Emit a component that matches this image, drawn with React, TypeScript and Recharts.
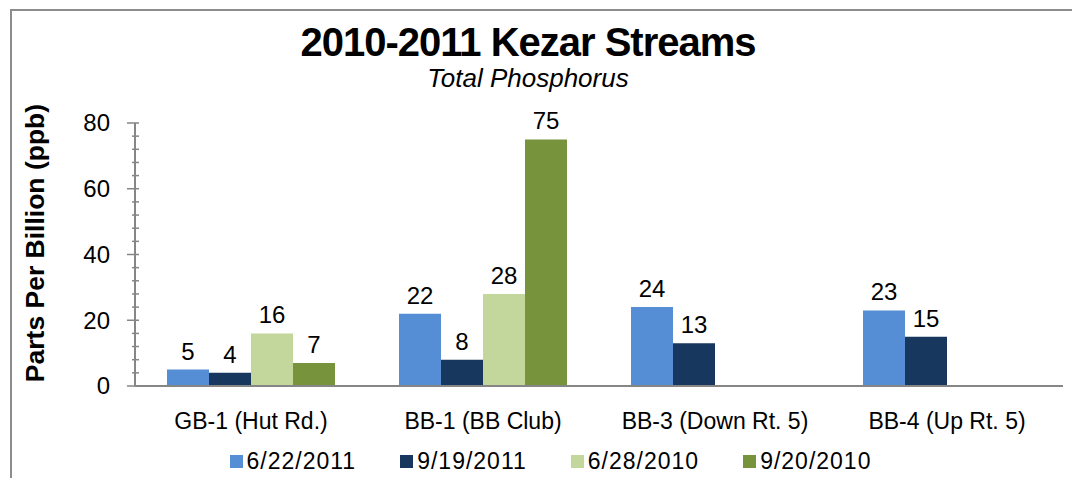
import { BarChart, Bar, XAxis, YAxis, LabelList, Legend } from 'recharts';

const sites = ['GB-1 (Hut Rd.)', 'BB-1 (BB Club)', 'BB-3 (Down Rt. 5)', 'BB-4 (Up Rt. 5)'];
const jun2011 = [5, 22, 24, 23];
const sep2011 = [4, 8, 13, 15];
const jun2010 = [16, 28, null, null];
const sep2010 = [7, 75, null, null];
const yTicks = [0, 4, 8, 12, 16, 20, 24, 28, 32, 36, 40, 44, 48, 52, 56, 60, 64, 68, 72, 76, 80];

const series = [
  { key: 'jun2011', name: '6/22/2011', color: '#558ED5' },
  { key: 'sep2011', name: '9/19/2011', color: '#17375E' },
  { key: 'jun2010', name: '6/28/2010', color: '#C3D69B' },
  { key: 'sep2010', name: '9/20/2010', color: '#77933C' },
];

const data = sites.map((site, i) => ({
  site,
  jun2011: jun2011[i],
  sep2011: sep2011[i],
  jun2010: jun2010[i],
  sep2010: sep2010[i],
}));

const FONT = '"Liberation Sans", Arial, sans-serif';
const AXIS_COLOR = '#868686';

function YTick({ x, y, payload }: any) {
  const major = payload.value % 20 === 0;
  return (
    <g>
      <line x1={x - (major ? 8 : 3)} x2={x + 4} y1={y} y2={y} stroke={AXIS_COLOR} strokeWidth={1.5} />
      {major && (
        <text x={x - 25} y={y} dy="0.35em" textAnchor="end" fontSize={24} fill="#000" fontFamily={FONT}>
          {payload.value}
        </text>
      )}
    </g>
  );
}

function LegendContent() {
  return (
    <div style={{ display: 'flex', justifyContent: 'center', gap: 44, paddingLeft: 30, paddingTop: 12, fontFamily: FONT, fontSize: 23, letterSpacing: 1 }}>
      {series.map(s => (
        <span key={s.key} style={{ display: 'flex', alignItems: 'center' }}>
          <span style={{ width: 13, height: 13, background: s.color, marginRight: 4, display: 'inline-block' }} />
          {s.name}
        </span>
      ))}
    </div>
  );
}

export default function App() {
  return (
    <div style={{ position: 'relative', width: 1072, height: 470, fontFamily: FONT }}>
      <div style={{ position: 'absolute', left: 2, top: 1, width: 1070, height: 469, borderTop: '2px solid #8c8c8c', borderLeft: '2px solid #8c8c8c' }} />
      <div style={{ position: 'absolute', left: 0, top: 14, width: 1040, textAlign: 'center', fontSize: 40, fontWeight: 'bold', letterSpacing: -1, lineHeight: 1 }}>
        2010-2011 Kezar Streams
      </div>
      <div style={{ position: 'absolute', left: 0, top: 57, width: 1040, textAlign: 'center', fontSize: 26, fontStyle: 'italic', lineHeight: 1 }}>
        Total Phosphorus
      </div>
      <div style={{ position: 'absolute', left: 27, top: 235, width: 0, height: 0 }}>
        <div style={{ position: 'absolute', transform: 'translate(-50%, -50%) rotate(-90deg)', whiteSpace: 'nowrap', fontSize: 26.5, fontWeight: 'bold', lineHeight: 1 }}>
          Parts Per Billion (ppb)
        </div>
      </div>
      <BarChart
        width={1072}
        height={470}
        data={data}
        margin={{ top: 115, right: 17, left: 0, bottom: 0 }}
        barCategoryGap={32}
        barGap={0}
        style={{ position: 'absolute', left: 0, top: 0 }}
      >
        <XAxis
          dataKey="site"
          height={50}
          tickLine={false}
          tickSize={0}
          tickMargin={27}
          axisLine={{ stroke: AXIS_COLOR, strokeWidth: 2 }}
          tick={{ fill: '#000', fontSize: 23, fontFamily: FONT }}
          interval={0}
        />
        <YAxis
          width={127}
          domain={[0, 80]}
          ticks={yTicks}
          interval={0}
          tickLine={false}
          tickSize={0}
          tickMargin={0}
          axisLine={{ stroke: AXIS_COLOR, strokeWidth: 2 }}
          tick={<YTick />}
        />
        <Legend verticalAlign="bottom" height={42} content={<LegendContent />} />
        {series.map(s => (
          <Bar key={s.key} dataKey={s.key} name={s.name} fill={s.color} isAnimationActive={false}>
            <LabelList
              dataKey={s.key}
              position="top"
              offset={10}
              formatter={(v: any) => (v == null ? '' : v)}
              style={{ fill: '#000', fontSize: 24, fontFamily: FONT }}
            />
          </Bar>
        ))}
      </BarChart>
    </div>
  );
}
